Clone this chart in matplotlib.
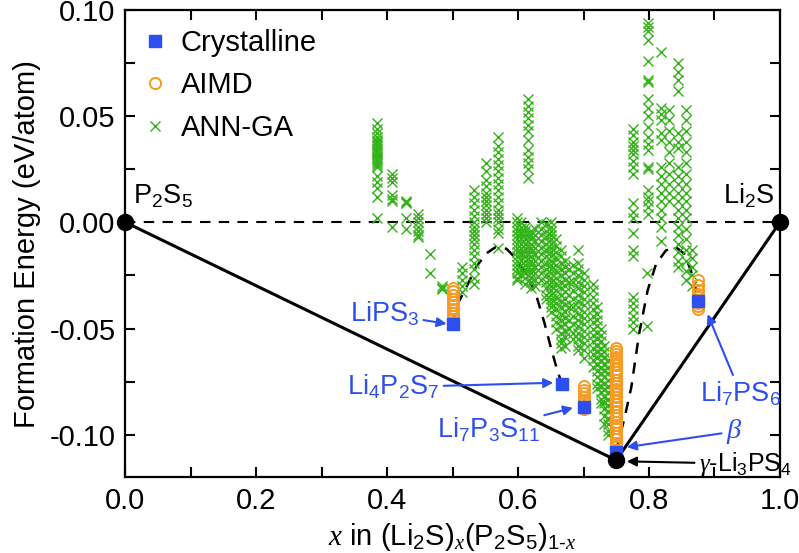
import matplotlib
matplotlib.use("Agg")
import matplotlib.pyplot as plt

plt.rcParams['font.family'] = ['Liberation Sans', 'DejaVu Sans']
plt.rcParams['mathtext.fontset'] = 'custom'
plt.rcParams['mathtext.rm'] = 'Liberation Sans'
plt.rcParams['mathtext.it'] = 'Liberation Serif:italic'
plt.rcParams['mathtext.default'] = 'rm'
plt.rcParams['axes.unicode_minus'] = False

# ---- data ----
# end members + ground state (convex hull)
hull_x = [0.0, 0.75, 1.0]
hull_e = [0.0, -0.112, 0.0]

# crystalline phases: LiPS3, Li4P2S7, Li7P3S11, beta-Li3PS4, Li7PS6
cryst_x = [0.5, 0.667, 0.7, 0.75, 0.875]
cryst_e = [-0.048, -0.076, -0.087, -0.108, -0.037]

# AIMD structures
aimd_x = [0.5] * 11 + [0.7] * 8 + [0.75] * 33 + [0.875] * 9
aimd_e = ([-0.047, -0.0455, -0.044, -0.0425, -0.041, -0.039, -0.0375, -0.036, -0.034,
           -0.0325, -0.031] +
          [-0.088, -0.0865, -0.085, -0.0835, -0.082, -0.0805, -0.079, -0.077] +
          [-0.107, -0.1055, -0.104, -0.102, -0.1005, -0.099, -0.097, -0.0955, -0.094,
           -0.092, -0.0905, -0.089, -0.087, -0.0855, -0.084, -0.082, -0.0805, -0.079,
           -0.077, -0.0755, -0.074, -0.072, -0.0705, -0.069, -0.067, -0.0655, -0.064,
           -0.062, -0.0605, -0.059, -0.0635, -0.0665, -0.0785] +
          [-0.041, -0.0395, -0.038, -0.0365, -0.035, -0.0335, -0.032, -0.0295, -0.027])

# ANN-GA structures, grouped by composition
ann_x = [0.384, 0.407, 0.428, 0.447, 0.466, 0.483, 0.515, 0.533, 0.551, 0.570,
         0.615, 0.599, 0.610, 0.620, 0.635, 0.650, 0.666, 0.678, 0.691, 0.714,
         0.727, 0.737, 0.775, 0.797, 0.799, 0.818, 0.831, 0.845, 0.857, 0.866,
         0.604, 0.626, 0.643, 0.658, 0.672, 0.684, 0.700, 0.720, 0.732]
ann_e = [
    [0.047, 0.044, 0.042, 0.040, 0.039, 0.038, 0.037, 0.036, 0.035, 0.034, 0.033,
     0.032, 0.031, 0.030, 0.029, 0.028, 0.027, 0.026, 0.022, 0.019, 0.016, 0.012, 0.002],
    [0.023, 0.021, 0.019, 0.013, 0.011, 0.010, -0.002],
    [0.010, 0.0095, 0.009, 0.002, -0.003],
    [0.004, 0.002, 0.000, -0.002, -0.004, -0.006, -0.007],
    [-0.015, -0.024],
    [-0.030, -0.031, -0.0315],
    [-0.021, -0.024, -0.027, -0.030, -0.033],
    [0.015, 0.012, 0.009, 0.006, 0.003, 0.000, -0.002, -0.004, -0.006, -0.008,
     -0.010, -0.013, -0.016, -0.019, -0.022, -0.026, -0.029],
    [0.028, 0.024, 0.020, 0.017, 0.014, 0.012, 0.010, 0.008, 0.006, 0.004, 0.002, 0.000],
    [0.040, 0.036, 0.033, 0.030, 0.027, 0.024, 0.021, 0.018, 0.015, 0.012, 0.009,
     0.006, 0.004, 0.002, 0.000, -0.003, -0.005, -0.012],
    [0.058, 0.055, 0.052, 0.049, 0.046, 0.043, 0.039, 0.034, 0.031, 0.028, 0.025, 0.021],
    [0.002, 0.000, -0.002, -0.004, -0.006, -0.008, -0.010, -0.012, -0.014, -0.016,
     -0.018, -0.020, -0.022, -0.024, -0.026, -0.027],
    [-0.002, -0.004, -0.006, -0.008, -0.010, -0.012, -0.014, -0.016, -0.018, -0.020,
     -0.022, -0.024, -0.026, -0.029],
    [-0.004, -0.006, -0.008, -0.010, -0.012, -0.014, -0.016, -0.018, -0.020, -0.022,
     -0.024, -0.026, -0.028, -0.031],
    [0.000, -0.003, -0.006, -0.009, -0.012, -0.015, -0.018, -0.021, -0.024, -0.027],
    [0.000, -0.002, -0.004, -0.006, -0.008, -0.010, -0.012, -0.014, -0.016, -0.018,
     -0.020, -0.022, -0.024, -0.026, -0.028, -0.030, -0.032, -0.034, -0.036, -0.038,
     -0.040, -0.042],
    [-0.013, -0.016, -0.019, -0.022, -0.025, -0.028, -0.031, -0.034, -0.037, -0.040,
     -0.043, -0.046, -0.049, -0.052, -0.055, -0.057, -0.059],
    [-0.022, -0.028, -0.034, -0.040, -0.046, -0.050],
    [-0.013, -0.019, -0.022, -0.025, -0.028, -0.031, -0.034, -0.037, -0.040, -0.043,
     -0.046, -0.049, -0.052, -0.055, -0.058, -0.060],
    [-0.029, -0.032, -0.035, -0.038, -0.041, -0.044, -0.047, -0.050, -0.053, -0.056,
     -0.059, -0.062, -0.065, -0.068],
    [-0.050, -0.053, -0.056, -0.059, -0.062, -0.065, -0.068, -0.071, -0.074, -0.077,
     -0.080, -0.083, -0.085],
    [-0.065, -0.068, -0.071, -0.074, -0.077, -0.080, -0.083, -0.086, -0.089, -0.092,
     -0.095, -0.098, -0.100],
    [0.044, 0.041, 0.038, 0.036, 0.034, 0.032, 0.029, 0.026, 0.023, 0.009, 0.005,
     0.002, -0.005, -0.013, -0.016, -0.035, -0.038, -0.041, -0.044, -0.047, -0.050],
    [-0.024, -0.049],
    [0.094, 0.092, 0.090, 0.086, 0.076, 0.067, 0.066, 0.058, 0.054, 0.050, 0.045,
     0.040, 0.037, 0.034, 0.026, 0.025, 0.015, 0.012, 0.010, 0.007, 0.004],
    [0.080, 0.054, 0.051, 0.048, 0.042, 0.039, 0.026, 0.022, 0.018, 0.014, 0.010,
     0.006, 0.002, -0.002, -0.009],
    [0.053, 0.048, 0.043, 0.038, 0.033, 0.028, 0.023, 0.018, 0.014, 0.010],
    [0.075, 0.071, 0.067, 0.062, 0.042, 0.038, 0.035, 0.026, 0.022, 0.018, 0.014,
     0.010, 0.006, 0.002, -0.002, -0.006, -0.010, -0.014, -0.018, -0.021],
    [0.053, 0.048, 0.043, 0.038, 0.033, 0.028, 0.023, 0.018, 0.014, 0.010, 0.006,
     0.002, -0.003, -0.008, -0.013, -0.018, -0.023, -0.027],
    [-0.013, -0.017, -0.021, -0.025, -0.030],
    [0.000, -0.0025, -0.005, -0.0075, -0.010, -0.0125, -0.015, -0.0175, -0.020,
     -0.0225, -0.025],
    [-0.003, -0.006, -0.009, -0.012, -0.015, -0.018, -0.021, -0.024, -0.027, -0.030],
    [-0.001, -0.004, -0.007, -0.010, -0.013, -0.016, -0.019, -0.022, -0.025, -0.028,
     -0.031, -0.034, -0.036],
    [-0.008, -0.011, -0.014, -0.017, -0.020, -0.023, -0.026, -0.029, -0.032, -0.035,
     -0.038, -0.041, -0.044, -0.047, -0.050],
    [-0.018, -0.021, -0.024, -0.027, -0.030, -0.033, -0.036, -0.039, -0.042, -0.045,
     -0.048, -0.051, -0.054, -0.058],
    [-0.020, -0.024, -0.028, -0.032, -0.036, -0.040, -0.044, -0.048, -0.052, -0.055],
    [-0.024, -0.027, -0.030, -0.033, -0.036, -0.039, -0.042, -0.045, -0.048, -0.051,
     -0.054, -0.057, -0.060, -0.064],
    [-0.040, -0.043, -0.046, -0.049, -0.052, -0.055, -0.058, -0.061, -0.064, -0.067,
     -0.070, -0.073, -0.076, -0.078],
    [-0.058, -0.061, -0.064, -0.067, -0.070, -0.073, -0.076, -0.079, -0.082, -0.085,
     -0.088, -0.091, -0.095],
]

# dashed guide curves
guide1_x = [0.500, 0.505, 0.521, 0.536, 0.551, 0.566, 0.582, 0.597, 0.612, 0.627,
            0.640, 0.650, 0.660, 0.667]
guide1_e = [-0.048, -0.040, -0.0305, -0.021, -0.0147, -0.0116, -0.0124, -0.017,
            -0.0242, -0.0336, -0.047, -0.0588, -0.0698, -0.076]
guide2_x = [0.750, 0.755, 0.762, 0.773, 0.785, 0.798, 0.811, 0.826, 0.841, 0.854,
            0.864, 0.872, 0.875]
guide2_e = [-0.108, -0.101, -0.093, -0.0777, -0.0524, -0.032, -0.0195, -0.0132,
            -0.0116, -0.0148, -0.0226, -0.032, -0.037]

blue = '#2d4ff0'
orange = '#f59a23'
green = '#34b21a'
fs = 21
afs = 19.5

fig = plt.figure(figsize=(7.99, 5.53), dpi=100)
ax = fig.add_axes([0.157, 0.137, 0.819, 0.845])

ax.axhline(0, color='black', lw=1.5, ls=(0, (5, 4)), zorder=1)
ax.plot(hull_x, hull_e, color='black', lw=2.2, zorder=2)
ax.plot(guide1_x, guide1_e, color='black', lw=1.8, ls=(0, (4.5, 3.5)), zorder=2)
ax.plot(guide2_x, guide2_e, color='black', lw=1.8, ls=(0, (4.5, 3.5)), zorder=2)

gx = []
ge = []
for x, es in zip(ann_x, ann_e):
    gx += [x] * len(es)
    ge += es
ax.plot(gx, ge, 'x', color=green, ms=7.5, mew=1.0, label='ANN-GA', zorder=3)
ax.plot(aimd_x, aimd_e, 'o', mfc='none', mec=orange, ms=8, mew=1.4, label='AIMD', zorder=4)
ax.plot(cryst_x, cryst_e, 's', color=blue, ms=8.5, label='Crystalline', zorder=5)
ax.plot(hull_x, hull_e, 'o', color='black', ms=11.5, zorder=6, clip_on=False)

handles, labels = ax.get_legend_handles_labels()
ax.legend(handles[::-1], labels[::-1], loc='upper left', frameon=False, fontsize=fs,
          handlelength=0.7, handletextpad=0.55, labelspacing=0.5,
          borderaxespad=0.25, bbox_to_anchor=(0.0, 1.0))

blue_arrow = dict(arrowstyle='-|>', color=blue, lw=1.5, mutation_scale=14, shrinkA=1, shrinkB=2)
ax.annotate('LiPS$_3$', xy=(0.495, -0.048), xytext=(0.449, -0.043), color=blue,
            fontsize=afs, ha='right', va='center', arrowprops=blue_arrow)
ax.annotate('Li$_4$P$_2$S$_7$', xy=(0.658, -0.0755), xytext=(0.480, -0.0776), color=blue,
            fontsize=afs, ha='right', va='center', arrowprops=blue_arrow)
ax.annotate('Li$_7$P$_3$S$_{11}$', xy=(0.688, -0.087), xytext=(0.555, -0.0975), color=blue,
            fontsize=afs, ha='center', va='center', arrowprops=blue_arrow)
ax.annotate(r'$\mathit{\beta}$', xy=(0.762, -0.106), xytext=(0.93, -0.0985), color=blue,
            fontsize=afs + 1, ha='center', va='center', arrowprops=blue_arrow)
ax.annotate(r'$\mathit{\gamma}$-Li$_3$PS$_4$', xy=(0.762, -0.1125), xytext=(0.876, -0.1137),
            color='black', fontsize=afs - 1.5, ha='left', va='center',
            arrowprops=dict(arrowstyle='-|>', color='black', lw=1.5, mutation_scale=14,
                            shrinkA=1, shrinkB=2))
ax.annotate('Li$_7$PS$_6$', xy=(0.888, -0.042), xytext=(0.94, -0.0805), color=blue,
            fontsize=afs, ha='center', va='center', arrowprops=blue_arrow)
ax.text(0.012, 0.0125, 'P$_2$S$_5$', fontsize=afs, ha='left', va='center')
ax.text(0.992, 0.0125, 'Li$_2$S', fontsize=afs, ha='right', va='center')

ax.set_xlim(0, 1)
ax.set_ylim(-0.12, 0.10)
ax.set_xticks([0, 0.2, 0.4, 0.6, 0.8, 1.0])
ax.set_xticks([0.1, 0.3, 0.5, 0.7, 0.9], minor=True)
ax.set_yticks([-0.10, -0.05, 0.0, 0.05, 0.10])
ax.set_yticks([-0.075, -0.025, 0.025, 0.075], minor=True)
ax.set_xticklabels(['0.0', '0.2', '0.4', '0.6', '0.8', '1.0'])
ax.set_yticklabels(['-0.10', '-0.05', '0.00', '0.05', '0.10'])
ax.tick_params(which='both', direction='in', top=True, right=True, length=7, width=1.5,
               labelsize=fs, pad=7)
for s in ax.spines.values():
    s.set_linewidth(1.6)

ax.set_xlabel(r'$\mathit{x}$ in (Li$_2$S)$_{\mathit{x}}$(P$_2$S$_5$)$_{1\text{-}\mathit{x}}$',
              fontsize=fs, labelpad=4)
ax.set_ylabel('Formation Energy (eV/atom)', fontsize=fs, labelpad=6)

fig.savefig('out.png', dpi=100)
